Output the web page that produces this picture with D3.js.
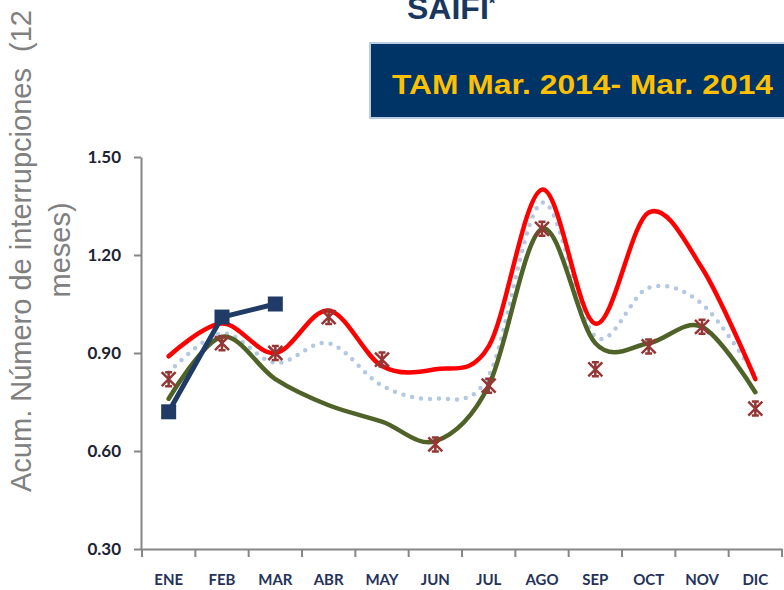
<!DOCTYPE html>
<html>
<head>
<meta charset="utf-8">
<script src="https://cdn.jsdelivr.net/npm/d3@7"></script>
<style>
    body { margin: 0; background: #fff; }
    svg { display: block; }
</style>
</head>
<body>
<div id="chart"></div>
<script>
const months = ['ENE', 'FEB', 'MAR', 'ABR', 'MAY', 'JUN', 'JUL', 'AGO', 'SEP', 'OCT', 'NOV', 'DIC'];
const yTicks = [0.30, 0.60, 0.90, 1.20, 1.50];

// upper band (red), average (dotted), lower band (green)
const upperValues = [0.89, 0.99, 0.90, 1.03, 0.86, 0.85, 0.92, 1.40, 0.99, 1.33, 1.16, 0.82];
const avgValues = [0.84, 0.96, 0.87, 0.93, 0.80, 0.76, 0.83, 1.36, 0.95, 1.10, 1.05, 0.83];
const lowerValues = [0.76, 0.95, 0.82, 0.74, 0.69, 0.63, 0.80, 1.28, 0.93, 0.93, 0.98, 0.78];
// previous year points (stars) and current year (squares)
const prevValues = [0.82, 0.93, 0.90, 1.01, 0.88, 0.62, 0.80, 1.28, 0.85, 0.92, 0.98, 0.73];
const currentValues = [0.72, 1.01, 1.05];

const titleText = 'SAIFI';
const boxText = 'TAM Mar. 2014- Mar. 2014';
const yLabel1 = 'Acum. Número de interrupciones  (12';
const yLabel2 = 'meses)';

function getConfiguration() {
    let width = 784, height = 590;
    let svg = d3.select('#chart').append('svg')
        .attr('width', width)
        .attr('height', height);
    let xScaler = d3.scaleBand().domain(months).range([142, 782]).padding(0);
    let yScaler = d3.scaleLinear().domain([0.3, 1.5]).range([549, 157]);
    return { svg, xScaler, yScaler };
}

function drawHeader(config) {
    let { svg } = config;
    let t = svg.append('text')
        .attr('x', 407).attr('y', 19)
        .style('font-family', '"Liberation Sans", Arial, sans-serif')
        .style('font-weight', 'bold')
        .style('font-size', '32px')
        .attr('fill', '#17375e');
    t.append('tspan').text(titleText);
    t.append('tspan').attr('dy', -10).style('font-size', '17px').text('*');

    svg.append('rect')
        .attrs({ x: 370, y: 43, width: 430, height: 75 })
        .attr('fill', '#003366')
        .attr('stroke', '#b9cde5')
        .attr('stroke-width', 2);
    svg.append('text')
        .attr('x', 392).attr('y', 94)
        .attr('textLength', 381)
        .attr('lengthAdjust', 'spacingAndGlyphs')
        .style('font-family', '"Liberation Sans", Arial, sans-serif')
        .style('font-weight', 'bold')
        .style('font-size', '27px')
        .attr('fill', '#ffc000')
        .text(boxText);

    svg.append('text')
        .attr('transform', 'translate(31,492) rotate(-90)')
        .style('font-family', '"Liberation Sans", Arial, sans-serif')
        .style('font-size', '29px')
        .style('white-space', 'pre')
        .attr('fill', '#808080')
        .text(yLabel1);
    svg.append('text')
        .attr('transform', 'translate(70,250) rotate(-90)')
        .attr('text-anchor', 'middle')
        .style('font-family', '"Liberation Sans", Arial, sans-serif')
        .style('font-size', '29px')
        .attr('fill', '#808080')
        .text(yLabel2);
}

function drawAxes(config) {
    let { svg, xScaler, yScaler } = config;

    let yAxis = d3.axisLeft(yScaler)
        .tickValues(yTicks)
        .tickFormat(d3.format('.2f'))
        .tickSize(7)
        .tickPadding(13)
        .tickSizeOuter(0);
    let gy = svg.append('g')
        .attr('transform', 'translate(141,0)')
        .call(yAxis);
    gy.selectAll('path, line').attr('stroke', '#868686').attr('stroke-width', 2);
    gy.selectAll('text')
        .style('font-family', 'Lato, "Open Sans", sans-serif')
        .style('font-weight', 'bold')
        .style('font-size', '17px')
        .attr('fill', '#1c2333');

    let xAxis = d3.axisBottom(xScaler)
        .tickSize(0)
        .tickPadding(31)
        .tickSizeOuter(0);
    let gx = svg.append('g')
        .attr('transform', 'translate(0,549)')
        .call(xAxis);
    gx.select('path').attr('stroke', '#868686').attr('stroke-width', 2);
    gx.selectAll('text')
        .attr('dy', '0.35em')
        .style('font-family', 'Lato, "Open Sans", sans-serif')
        .style('font-weight', 'bold')
        .style('font-size', '15px')
        .attr('fill', '#25325a');

    // category boundary ticks
    let bounds = months.map(m => xScaler(m)).concat([xScaler.range()[1]]);
    gx.selectAll('.bound')
        .data(bounds)
        .enter()
        .append('line')
        .attrs({ x1: d => d, x2: d => d, y1: 0, y2: 8 })
        .attr('stroke', '#868686')
        .attr('stroke-width', 2);
}

function drawSeries(config) {
    let { svg, xScaler, yScaler } = config;
    let cx = i => xScaler(months[i]) + xScaler.bandwidth() / 2;
    let smooth = d3.line()
        .x((d, i) => cx(i))
        .y(d => yScaler(d))
        .curve(d3.curveCardinal.tension(0));

    svg.append('path')
        .datum(avgValues)
        .attr('d', smooth)
        .attr('fill', 'none')
        .attr('stroke', '#b4c8e2')
        .attr('stroke-width', 4.5)
        .attr('stroke-linecap', 'round')
        .attr('stroke-dasharray', '0 9');

    svg.append('path')
        .datum(upperValues)
        .attr('d', smooth)
        .attr('fill', 'none')
        .attr('stroke', '#ff0000')
        .attr('stroke-width', 4.5)
        .attr('stroke-linecap', 'round');

    svg.append('path')
        .datum(lowerValues)
        .attr('d', smooth)
        .attr('fill', 'none')
        .attr('stroke', '#4f6228')
        .attr('stroke-width', 4.5)
        .attr('stroke-linecap', 'round');

    let s = 7;
    svg.append('g').selectAll('path')
        .data(prevValues)
        .enter()
        .append('path')
        .attr('transform', (d, i) => `translate(${cx(i)},${yScaler(d)})`)
        .attr('d', `M${-s},${-s}L${s},${s}M${-s},${s}L${s},${-s}M0,${-s - 1}L0,${s + 1}M${-s / 2},${-s}L${s / 2},${-s}M${-s / 2},${s}L${s / 2},${s}`)
        .attr('fill', 'none')
        .attr('stroke', '#953735')
        .attr('stroke-width', 2.5);

    let straight = d3.line()
        .x((d, i) => cx(i))
        .y(d => yScaler(d));
    svg.append('path')
        .datum(currentValues)
        .attr('d', straight)
        .attr('fill', 'none')
        .attr('stroke', '#1f3b66')
        .attr('stroke-width', 5);
    svg.append('g').selectAll('rect')
        .data(currentValues)
        .enter()
        .append('rect')
        .attrs({
            x: (d, i) => cx(i) - 7.5,
            y: d => yScaler(d) - 7.5,
            width: 15,
            height: 15
        })
        .attr('fill', '#1f3b66');
}

// small helper since d3-selection-multi isn't loaded
d3.selection.prototype.attrs = function (obj) {
    Object.keys(obj).forEach(k => this.attr(k, obj[k]));
    return this;
};

let config = getConfiguration();
drawHeader(config);
drawAxes(config);
drawSeries(config);
</script>
</body>
</html>
